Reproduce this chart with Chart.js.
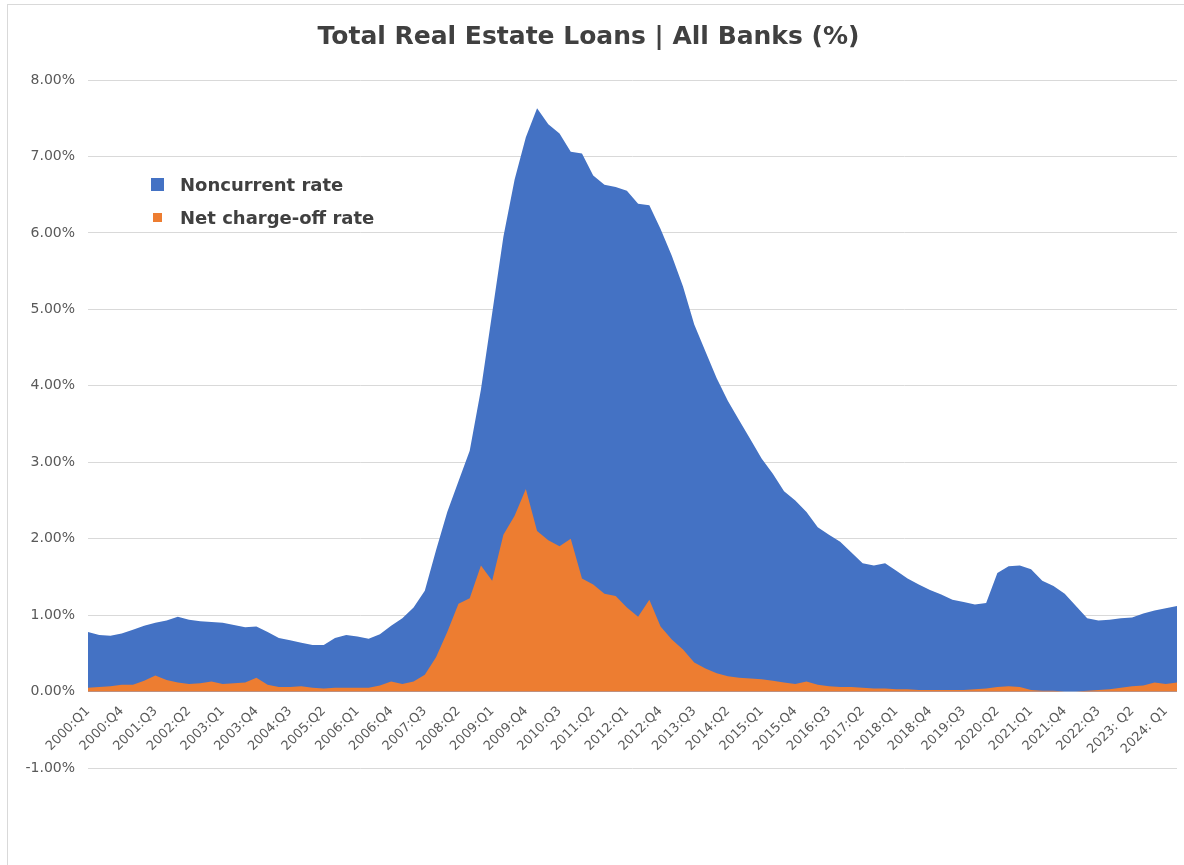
<!DOCTYPE html>
<html lang="en">
<head>
<meta charset="UTF-8">
<title>Total Real Estate Loans | All Banks (%)</title>
<script src="https://cdn.jsdelivr.net/npm/chart.js"></script>
<style>
    html, body {
        margin: 0;
        padding: 0;
        width: 1184px;
        height: 865px;
        overflow: hidden;
        background: #fff;
        font-family: 'DejaVu Sans', Verdana, sans-serif;
    }
    .frame {
        position: absolute;
        left: 7px;
        top: 4px;
        width: 1200px;
        height: 900px;
        border: 1px solid #d9d9d9;
    }
    #chart {
        position: absolute;
        left: 0;
        top: 0;
    }
    .legend {
        position: absolute;
        left: 151px;
        top: 168px;
        color: #404040;
        font-weight: bold;
        font-size: 18px;
    }
    .legend-item {
        display: flex;
        align-items: center;
        height: 33px;
    }
    .swatch {
        display: inline-block;
        margin-right: 16px;
    }
</style>
</head>
<body>
<div class="frame"></div>
<canvas id="chart" width="1184" height="865"></canvas>
<div class="legend">
    <div class="legend-item"><span class="swatch" style="width:13px;height:13px;background:#4472C4"></span>Noncurrent rate</div>
    <div class="legend-item"><span class="swatch" style="width:9px;height:9px;margin-left:2px;margin-right:18px;background:#ED7D31"></span>Net charge-off rate</div>
</div>

<script>
// quarters 2000:Q1 .. 2024:Q2
const quarterLabels = [
    '2000:Q1', '2000:Q2', '2000:Q3', '2000:Q4', '2001:Q1', '2001:Q2', '2001:Q3', '2001:Q4',
    '2002:Q1', '2002:Q2', '2002:Q3', '2002:Q4', '2003:Q1', '2003:Q2', '2003:Q3', '2003:Q4',
    '2004:Q1', '2004:Q2', '2004:Q3', '2004:Q4', '2005:Q1', '2005:Q2', '2005:Q3', '2005:Q4',
    '2006:Q1', '2006:Q2', '2006:Q3', '2006:Q4', '2007:Q1', '2007:Q2', '2007:Q3', '2007:Q4',
    '2008:Q1', '2008:Q2', '2008:Q3', '2008:Q4', '2009:Q1', '2009:Q2', '2009:Q3', '2009:Q4',
    '2010:Q1', '2010:Q2', '2010:Q3', '2010:Q4', '2011:Q1', '2011:Q2', '2011:Q3', '2011:Q4',
    '2012:Q1', '2012:Q2', '2012:Q3', '2012:Q4', '2013:Q1', '2013:Q2', '2013:Q3', '2013:Q4',
    '2014:Q1', '2014:Q2', '2014:Q3', '2014:Q4', '2015:Q1', '2015:Q2', '2015:Q3', '2015:Q4',
    '2016:Q1', '2016:Q2', '2016:Q3', '2016:Q4', '2017:Q1', '2017:Q2', '2017:Q3', '2017:Q4',
    '2018:Q1', '2018:Q2', '2018:Q3', '2018:Q4', '2019:Q1', '2019:Q2', '2019:Q3', '2019:Q4',
    '2020:Q1', '2020:Q2', '2020:Q3', '2020:Q4', '2021:Q1', '2021:Q2', '2021:Q3', '2021:Q4',
    '2022:Q1', '2022:Q2', '2022:Q3', '2022:Q4', '2023: Q1', '2023: Q2', '2023: Q3', '2023: Q4',
    '2024: Q1', '2024: Q2'
];

// Noncurrent rate (%)
const noncurrentRate = [
    0.78, 0.74, 0.73, 0.76, 0.81, 0.86, 0.90, 0.93, 0.98, 0.94,
    0.92, 0.91, 0.90, 0.87, 0.84, 0.85, 0.78, 0.70, 0.67, 0.64,
    0.61, 0.61, 0.70, 0.74, 0.72, 0.69, 0.75, 0.86, 0.96, 1.10,
    1.32, 1.85, 2.35, 2.75, 3.15, 3.95, 4.95, 5.95, 6.70, 7.25,
    7.63, 7.42, 7.30, 7.06, 7.04, 6.75, 6.63, 6.60, 6.55, 6.38,
    6.36, 6.05, 5.70, 5.30, 4.80, 4.45, 4.10, 3.80, 3.55, 3.30,
    3.05, 2.85, 2.62, 2.50, 2.35, 2.15, 2.05, 1.96, 1.82, 1.68,
    1.65, 1.68, 1.58, 1.48, 1.40, 1.33, 1.27, 1.20, 1.17, 1.14,
    1.16, 1.55, 1.64, 1.65, 1.60, 1.45, 1.38, 1.28, 1.12, 0.96,
    0.93, 0.94, 0.96, 0.97, 1.02, 1.06, 1.09, 1.12
];

// Net charge-off rate (%)
const chargeOffRate = [
    0.05, 0.06, 0.07, 0.09, 0.09, 0.14, 0.21, 0.15, 0.12, 0.10,
    0.11, 0.13, 0.10, 0.11, 0.12, 0.18, 0.09, 0.06, 0.06, 0.07,
    0.05, 0.04, 0.05, 0.05, 0.05, 0.05, 0.08, 0.13, 0.10, 0.13,
    0.22, 0.45, 0.78, 1.15, 1.22, 1.65, 1.45, 2.05, 2.30, 2.65,
    2.10, 1.98, 1.90, 2.00, 1.48, 1.40, 1.28, 1.25, 1.10, 0.98,
    1.20, 0.85, 0.68, 0.55, 0.38, 0.30, 0.24, 0.20, 0.18, 0.17,
    0.16, 0.14, 0.12, 0.10, 0.13, 0.09, 0.07, 0.06, 0.06, 0.05,
    0.04, 0.04, 0.03, 0.03, 0.02, 0.02, 0.02, 0.02, 0.02, 0.03,
    0.04, 0.06, 0.07, 0.06, 0.02, 0.01, 0.01, 0.00, 0.00, 0.01,
    0.02, 0.03, 0.05, 0.07, 0.08, 0.12, 0.10, 0.12
];

const yTicks = [-1, 0, 1, 2, 3, 4, 5, 6, 7, 8];

Chart.defaults.font.family = "'DejaVu Sans', Verdana, sans-serif";

new Chart(document.getElementById('chart'), {
    type: 'line',
    data: {
        labels: quarterLabels,
        datasets: [
            {
                label: 'Noncurrent rate',
                data: noncurrentRate,
                fill: 'origin',
                backgroundColor: '#4472C4',
                borderColor: '#4472C4',
                borderWidth: 0,
                pointRadius: 0,
                tension: 0,
                order: 2
            },
            {
                label: 'Net charge-off rate',
                data: chargeOffRate,
                fill: 'origin',
                backgroundColor: '#ED7D31',
                borderColor: '#ED7D31',
                borderWidth: 0,
                pointRadius: 0,
                tension: 0,
                order: 1
            }
        ]
    },
    options: {
        responsive: false,
        animation: false,
        devicePixelRatio: 1,
        // x axis sits on the 0% line, so it takes no room at the bottom
        layout: { padding: { left: 0, right: 7, top: 0, bottom: 97 } },
        plugins: {
            legend: { display: false },
            tooltip: { enabled: false },
            title: {
                display: true,
                text: 'Total Real Estate Loans | All Banks (%)',
                color: '#404040',
                font: { size: 25, weight: 'bold' },
                padding: { top: 22, bottom: 28 }
            }
        },
        scales: {
            x: {
                position: { y: 0 },
                grid: { display: false },
                border: { display: false },
                ticks: {
                    autoSkip: false,
                    minRotation: 45,
                    maxRotation: 45,
                    padding: 4,
                    color: '#595959',
                    font: { size: 13 },
                    callback: (v, i) => (i % 3 === 0 ? quarterLabels[i] : null)
                },
                afterFit: (scale) => { scale.height = 0; }
            },
            y: {
                min: -1,
                max: 8,
                afterBuildTicks: (scale) => { scale.ticks = yTicks.map(v => ({ value: v })); },
                ticks: {
                    padding: 13,
                    color: '#595959',
                    font: { size: 14 },
                    callback: (v) => v.toFixed(2) + '%'
                },
                grid: { color: '#d9d9d9', drawTicks: false },
                border: { display: false },
                afterFit: (scale) => { scale.width = 88; }
            }
        }
    }
});
</script>
</body>
</html>
